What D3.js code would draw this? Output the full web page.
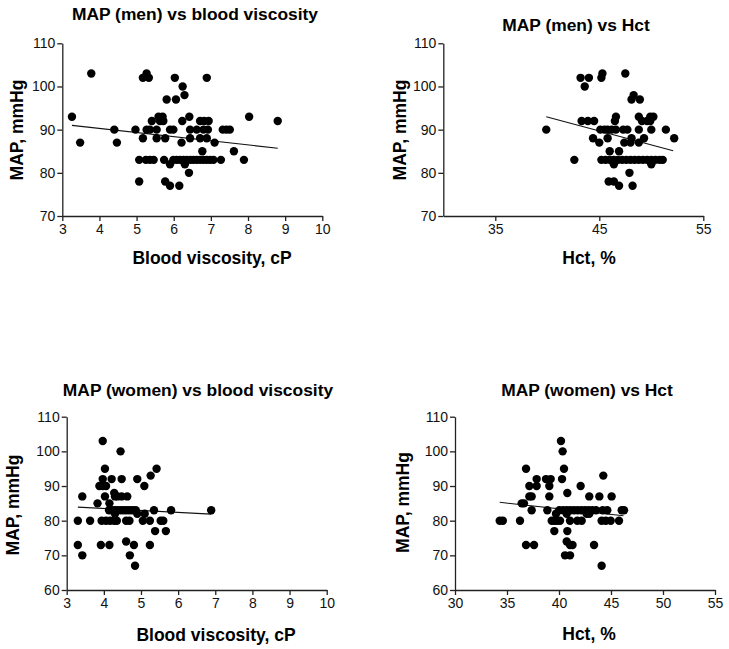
<!DOCTYPE html>
<html>
<head>
<meta charset="utf-8">
<script src="https://cdn.jsdelivr.net/npm/d3@7"></script>
<style>
  html, body { margin: 0; padding: 0; background: #fff; }
  svg { display: block; font-family: "Liberation Sans", Arial, sans-serif; }
</style>
</head>
<body>
<svg id="chart" width="729" height="649"></svg>
<script>
// ---------- DATA ----------
const titles = ["MAP (men) vs blood viscosity", "MAP (men) vs Hct", "MAP (women) vs blood viscosity", "MAP (women) vs Hct"];
const yLabel = "MAP, mmHg";
const xLabels = ["Blood viscosity, cP", "Hct, %", "Blood viscosity, cP", "Hct, %"];

const viscTicks = [3, 4, 5, 6, 7, 8, 9, 10];
const menHctTicks = [35, 45, 55];
const womenHctTicks = [30, 35, 40, 45, 50, 55];
const menYTicks = [70, 80, 90, 100, 110];
const womenYTicks = [60, 70, 80, 90, 100, 110];

// Men: MAP vs blood viscosity
const menViscX = [3.26,3.48,3.78,4.40,4.47,4.97,5.07,5.07,5.17,5.17,5.27,5.33,5.27,5.36,5.25,5.36,5.46,5.41,5.59,5.70,
  5.54,5.54,5.63,5.72,5.77,5.74,5.77,5.81,5.90,5.99,5.90,5.90,6.03,6.06,5.99,6.08,6.17,6.21,6.23,6.24,
  6.29,6.15,6.30,6.26,6.35,6.41,6.42,6.44,6.44,6.45,6.53,6.62,6.71,6.82,6.94,6.62,6.71,6.80,6.89,6.98,
  7.07,6.77,6.71,6.80,6.92,6.89,6.89,7.10,7.27,7.32,7.42,7.51,7.62,7.89,8.03,8.80];
const menViscY = [93,87,103,90,87,90,83,78,88,102,103,102,90,90,83,83,83,92,93,93,
  90,88,92,92,88,83,78,97,90,90,82,77,102,97,83,83,83,87,92,100,
  98,77,82,83,83,80,93,90,88,83,83,90,92,92,92,83,83,83,83,83,
  83,85,88,90,90,88,102,87,83,90,90,90,85,83,93,92];
const menViscFitX = [3.26, 8.80];
const menViscFitY = [91.0, 85.7];

// Men: MAP vs Hct
const menHctX = [39.9,42.6,43.2,44.0,43.6,45.2,45.3,47.5,
  43.3,43.9,44.5,46.5,49.1,49.6,49.9,
  46.6,48.8,49.9,50.2,
  48.3,48.1,48.9,
  45.1,45.5,45.8,46.2,46.6,47.3,47.7,48.8,50.0,51.4,
  44.4,45.8,48.1,49.3,52.2,
  45.0,47.4,48.0,48.8,
  46.0,46.9,
  45.2,45.6,46.0,46.4,46.8,47.2,47.6,48.0,48.4,48.8,49.2,49.6,50.0,50.4,50.8,51.1,
  46.4,50.0,47.9,45.9,46.4,46.9,48.2];
const menHctY = [90,83,102,102,100,102,103,103,
  92,92,92,92,92,92,92,
  93,93,93,93,
  98,97,97,
  90,90,90,90,90,90,90,90,90,90,
  88,88,88,88,88,
  87,87,87,87,
  85,85,
  83,83,83,83,83,83,83,83,83,83,83,83,83,83,83,83,
  82,82,80,78,78,77,77];
const menHctFitX = [39.9, 52.1];
const menHctFitY = [93.0, 85.1];

// Women: MAP vs blood viscosity
const womenViscX = [3.30,3.30,3.42,3.42,3.63,3.83,3.88,3.97,4.06,3.92,3.97,3.97,4.03,4.03,4.15,4.15,4.21,4.28,4.30,4.37,
  4.45,4.48,4.48,4.63,4.60,4.70,4.81,4.84,4.90,5.09,5.26,5.42,5.10,4.90,4.30,5.35,5.81,6.89,5.38,5.67,5.24,
  3.94,4.06,4.17,4.28,4.35,4.60,4.69,5.05,5.24,5.53,5.60,
  4.14,4.22,4.30,4.38,4.46,4.54,4.62,4.70,4.78,4.86];
const womenViscY = [80,73,70,87,80,85,90,90,90,73,103,92,87,95,85,73,92,88,87,87,
  100,92,87,87,74,70,73,67,92,90,93,95,82,82,82,83,83,83,77,77,73,
  80,80,80,80,80,80,80,80,80,80,80,
  83,83,83,83,83,83,83,83,83,83];
const womenViscFitX = [3.30, 6.89];
const womenViscFitY = [83.9, 81.9];

// Women: MAP vs Hct
const womenHctX = [34.3,34.6,36.25,36.41,36.63,36.83,36.83,37.6,37.15,37.15,37.37,37.37,37.85,37.85,38.75,39.2,39.07,39.07,38.88,
  40.19,40.35,40.48,40.29,40.8,42.08,42.91,43.88,45.06,44.26,39.71,40.74,42.66,42.91,
  39.3,39.55,39.8,40.1,41.06,41.76,42.18,44.1,44.5,44.97,45.77,
  39.55,40.8,40.74,41.06,41.3,43.37,40.58,41.06,44.1,
  40.03,40.4,40.75,41.1,41.45,41.8,42.15,42.5,42.85,43.2,43.56,44.2,44.64,46.03,46.25];
const womenHctY = [80,80,80,85,85,95,73,73,90,87,87,83,92,90,92,92,90,87,83,
  103,100,95,92,88,90,87,87,87,93,82,82,82,82,
  80,80,80,80,80,80,80,80,80,80,80,
  77,77,74,73,73,73,70,70,67,
  83,83,83,83,83,83,83,83,83,83,83,83,83,83,83];
const womenHctFitX = [34.3, 46.2];
const womenHctFitY = [85.3, 81.4];

// ---------- LAYOUT ----------
const svg = d3.select("#chart");
const panels = [
  { left: 62.3, right: 322.3, top: 43.3, bottom: 216, xDom: [3, 10], yDom: [70, 110], xT: viscTicks, yT: menYTicks,
    xs: menViscX, ys: menViscY, fx: menViscFitX, fy: menViscFitY,
    title: titles[0], tx: 195, ty: 20, xl: xLabels[0], xlx: 212, xly: 264, ylx: 23, yly: 130 },
  { left: 443.3, right: 703.3, top: 43.3, bottom: 216, xDom: [30, 55], yDom: [70, 110], xT: menHctTicks, yT: menYTicks,
    xs: menHctX, ys: menHctY, fx: menHctFitX, fy: menHctFitY,
    title: titles[1], tx: 576, ty: 30.5, xl: xLabels[1], xlx: 589, xly: 264, ylx: 406, yly: 130 },
  { left: 66.7, right: 326.7, top: 416.7, bottom: 590, xDom: [3, 10], yDom: [60, 110], xT: viscTicks, yT: womenYTicks,
    xs: womenViscX, ys: womenViscY, fx: womenViscFitX, fy: womenViscFitY,
    title: titles[2], tx: 198, ty: 396, xl: xLabels[2], xlx: 216, xly: 641, ylx: 18.5, yly: 505 },
  { left: 455, right: 715, top: 416.7, bottom: 590, xDom: [30, 55], yDom: [60, 110], xT: womenHctTicks, yT: womenYTicks,
    xs: womenHctX, ys: womenHctY, fx: womenHctFitX, fy: womenHctFitY,
    title: titles[3], tx: 587, ty: 396, xl: xLabels[3], xlx: 589, xly: 640, ylx: 409, yly: 502.5 }
];

panels.forEach(p => {
  const x = d3.scaleLinear().domain(p.xDom).range([p.left, p.right]);
  const y = d3.scaleLinear().domain(p.yDom).range([p.bottom, p.top]);
  const g = svg.append("g");

  const xAxis = g.append("g").attr("transform", `translate(0,${p.bottom})`)
    .call(d3.axisBottom(x).tickValues(p.xT).tickFormat(d3.format("d")).tickSize(5).tickSizeOuter(0).tickPadding(3));
  const yAxis = g.append("g").attr("transform", `translate(${p.left},0)`)
    .call(d3.axisLeft(y).tickValues(p.yT).tickFormat(d3.format("d")).tickSize(5).tickSizeOuter(0).tickPadding(2));
  [xAxis, yAxis].forEach(a => {
    a.selectAll("path, line").attr("stroke", "#222").attr("stroke-width", 1.3);
    a.selectAll("text").attr("font-size", 14).attr("fill", "#111")
      .attr("font-family", "'Liberation Sans', Arial, sans-serif");
  });

  // regression line
  const pts = p.fx.map((v, i) => [v, p.fy[i]]);
  g.append("path").datum(pts)
    .attr("d", d3.line().x(d => x(d[0])).y(d => y(d[1])))
    .attr("fill", "none").attr("stroke", "#111").attr("stroke-width", 1.1);

  // points
  g.selectAll("circle").data(p.xs.map((v, i) => [v, p.ys[i]])).join("circle")
    .attr("cx", d => x(d[0])).attr("cy", d => y(d[1])).attr("r", 4.2).attr("fill", "#000");

  // titles and labels
  g.append("text").attr("x", p.tx).attr("y", p.ty).attr("text-anchor", "middle")
    .attr("font-size", 17.4).attr("font-weight", "bold").attr("fill", "#000").text(p.title);
  g.append("text").attr("x", p.xlx).attr("y", p.xly).attr("text-anchor", "middle")
    .attr("font-size", 17.5).attr("font-weight", "bold").attr("fill", "#000").text(p.xl);
  g.append("text").attr("transform", `translate(${p.ylx},${p.yly}) rotate(-90)`).attr("text-anchor", "middle")
    .attr("font-size", 17.5).attr("font-weight", "bold").attr("fill", "#000").text(yLabel);
});
</script>
</body>
</html>
